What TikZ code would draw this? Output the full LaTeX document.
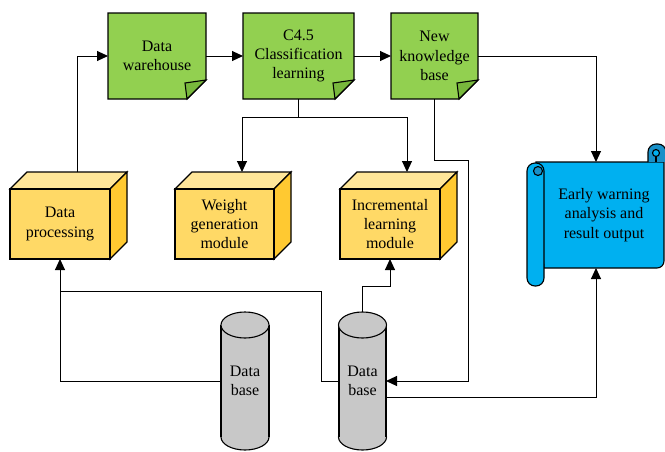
\documentclass[tikz,border=0pt]{standalone}
\usepackage{fontspec}
\setmainfont{Liberation Serif}
\usetikzlibrary{arrows.meta}
\definecolor{gfill}{HTML}{92D050}
\definecolor{gflap}{HTML}{78B83C}
\definecolor{yfront}{HTML}{FFD966}
\definecolor{ytop}{HTML}{FFE699}
\definecolor{yside}{HTML}{FFC931}
\definecolor{bfill}{HTML}{00B0F0}
\definecolor{bcurl}{HTML}{1890C8}
\definecolor{cylg}{HTML}{C8C8C8}
\newcommand\gdoc[4]{%
  \draw[edge,fill=gfill] (#1,#2) -- (#3,#2) -- (#3,#4-19) -- (#3-19,#4) -- (#1,#4) -- cycle;
  \draw[edge,fill=gflap] (#3-19,#4) -- (#3-21,#4-16) -- (#3,#4-19) -- cycle;}
\newcommand\ycube[4]{%
  \draw[edge,fill=ytop] (#1,#2) -- (#1+17,#2-17) -- (#3+17,#2-17) -- (#3,#2) -- cycle;
  \draw[edge,fill=yside] (#3,#2) -- (#3+17,#2-17) -- (#3+17,#4-17) -- (#3,#4) -- cycle;
  \draw[edge,fill=yfront] (#1,#2) rectangle (#3,#4);}
\newcommand\dbcyl[3]{% cx x1 x2
  \draw[edge,fill=cylg] (#1,437) ellipse [x radius=24pt, y radius=13pt];
  \fill[cylg] (#2,325) rectangle (#3,437);
  \draw[edge] (#2,325) -- (#2,437);
  \draw[edge] (#3,325) -- (#3,437);
  \draw[edge,fill=cylg] (#1,325) ellipse [x radius=24pt, y radius=13pt];}
\begin{document}
\begin{tikzpicture}[x=1pt,y=-1pt,
  txt/.style={align=center,font=\fontsize{16}{19.3}\selectfont,inner sep=0pt,outer sep=0pt},
  ln/.style={line width=1pt,draw=black},
  arr/.style={ln,-{Triangle[length=11pt,width=10pt]}},
  edge/.style={line width=1.1pt,draw=black}]
\useasboundingbox (0,0) rectangle (665,451);

% green documents
\gdoc{108}{13}{206}{99}
\gdoc{243}{13}{354}{99}
\gdoc{391}{13}{478}{99}
\node[txt,minimum width=98pt,minimum height=86pt] (dw) at (157,56) {Data\\warehouse};
\node[txt,minimum width=111pt,minimum height=86pt] (c45) at (298.5,56) {C4.5\\Classification\\learning};
\node[txt,minimum width=87pt,minimum height=86pt] (nkb) at (434.5,56) {New\\knowledge\\base};

% yellow cubes
\ycube{10}{189}{110}{259}
\ycube{175}{189}{274}{259}
\ycube{340}{189}{440}{259}
\node[txt,minimum width=100pt,minimum height=70pt] (dp) at (60,224) {Data\\processing};
\node[txt,minimum width=99pt,minimum height=70pt] (wg) at (224.5,224) {Weight\\generation\\module};
\node[txt,minimum width=100pt,minimum height=70pt] (il) at (390,224) {Incremental\\learning\\module};
\coordinate (dptop) at (77,172);
\coordinate (wgtop) at (242,172);
\coordinate (iltop) at (407,172);

% scroll
\draw[edge,fill=bfill] (536,162) -- (664,162) [rounded corners=7pt] -- (664,268) [sharp corners] -- (544,268) -- cycle;
\draw[edge,fill=bfill,rounded corners=8pt] (527,163) rectangle (544,286);
\draw[edge,fill=bcurl] (538,171) circle (4.5pt);
\draw[edge,fill=bcurl] (648,162) [rounded corners=8pt] -- (648,144) -- (666,144) [sharp corners] -- (666,162);
\draw[edge,fill=bfill] (656,153) circle (3.5pt);
\draw[edge] (656,156.5) -- (656,162);
\node[txt,minimum width=138pt,minimum height=106pt] (ew) at (596,215) {};
\node[txt] (ewt) at (604,215) {Early warning\\analysis and\\result output};

% databases
\dbcyl{245}{221}{269}
\dbcyl{362.5}{339}{386}
\node[txt,minimum width=48pt,minimum height=138pt] (db1) at (245,381) {Data\\base};
\node[txt,minimum width=47pt,minimum height=138pt] (db2) at (362.5,381) {Data\\base};

% connectors
\draw[arr] (dptop) |- (dw.west);
\draw[arr] (dw.east) -- (c45.west);
\draw[arr] (c45.east) -- (nkb.west);
\draw[arr] (nkb.east) -| (ew.north);
\coordinate (split) at (298.5,117);
\draw[ln] (c45.south) -- (split);
\draw[arr] (split) -| (wgtop);
\draw[arr] (split) -| (iltop);
\coordinate (nr) at (468,381);
\draw[arr] (nkb.south) -- ++(0,61) -| (nr) -- (db2.east);
\draw[arr] (db1.west) -| (dp.south);
\coordinate (jn) at (60,291);
\draw[ln] (db2.west) -- ++(-18,0) |- (jn);
\draw[arr] (db2.north) -- ++(0,-26) -| (il.south);
\coordinate (db2o) at (386,397);
\draw[arr] (db2o) -| (ew.south);
\end{tikzpicture}
\end{document}
